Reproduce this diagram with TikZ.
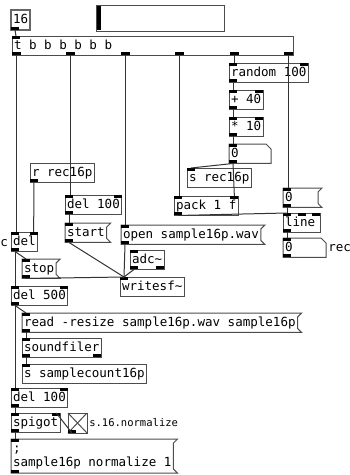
\documentclass[tikz,border=0pt]{standalone}
\usepackage{fontspec}
\setmonofont{DejaVu Sans Mono}
\usetikzlibrary{calc}
\newcommand{\pdfont}{\fontsize{9.4pt}{11pt}\ttfamily}
\newcommand{\pdsmall}{\fontsize{7.9pt}{9pt}\ttfamily}
% flag outline of a message box, notch of a number box
\newcommand{\flag}[1]{\draw[box] (#1.north west) -- ($(#1.north east)+(4,0)$) -- ($(#1.north east)+(0,4)$) -- ($(#1.south east)+(0,-4)$) -- ($(#1.south east)+(4,0)$) -- (#1.south west) -- cycle;}
\newcommand{\notch}[1]{\draw[box] (#1.north west) -- ($(#1.north east)+(-5,0)$) -- ($(#1.north east)+(0,5)$) -- (#1.south east) -- (#1.south west) -- cycle;}
% inlets and outlets
\newcommand{\inL}[1]{\fill (#1.north west) rectangle ++(8,3);}
\newcommand{\inR}[1]{\fill (#1.north east) rectangle ++(-8,3);}
\newcommand{\outL}[1]{\fill (#1.south west) rectangle ++(8,-3);}
\newcommand{\outR}[1]{\fill (#1.south east) rectangle ++(-8,-3);}
\newcommand{\wire}[2]{\draw[wire] ($(#1.south west)+(4,0)$) -- ($(#2.north west)+(4,0)$);}
\newcommand{\wireR}[2]{\draw[wire] ($(#1.south west)+(4,0)$) -- ($(#2.north east)+(-4,0)$);}

\begin{document}
\begin{tikzpicture}[x=0.75pt, y=-0.75pt]
\tikzset{box/.style = {draw=black!70, line width=0.75pt}}
\tikzset{obj/.style = {box, rectangle, anchor=north west, outer sep=0pt, inner xsep=1.5pt, inner ysep=0pt,
  minimum height=14.6pt, text height=7.3pt, text depth=2pt, font=\pdfont}}
\tikzset{msg/.style = {obj, draw=none}, atom/.style = {obj, draw=none}}
\tikzset{wide/.style = {text width=#1, align=left}}
\tikzset{wire/.style = {draw=black!80, line width=0.75pt}}
\useasboundingbox (0,0) rectangle (350,475);

% top row
\node[obj, line width=1.4pt, draw=black!60, minimum height=15pt] (num16) at (11,10) {16};
\draw[box] (96,5) rectangle (224,31);
\fill (97,6) rectangle (101,30);
\node[obj] (trig) at (12,36) {\makebox[207.75pt][l]{t b b b b b b}};
\foreach \k in {0,...,5} {
  \fill ($(trig.south west)+(\k*54.4,0)$) rectangle ++(9,-3);
  \coordinate (t\k) at ($(trig.south west)+(\k*54.4+4.5,0)$);
}

% random delay time
\node[obj] (random) at (229,63) {random 100};
\node[obj] (plus) at (229,90) {+ 40};
\node[obj] (times) at (229,117) {* 10};
\node[atom, wide=28.5pt] (num0) at (229,144) {0};
\node[obj] (srec) at (187,168) {s rec16p};
\node[obj] (pack) at (174,196) {pack 1 f};
\node[msg, wide=23.25pt] (msg0) at (283,188) {0};
\node[obj, wide=24.75pt] (ramp) at (283,213) {line};
\node[atom, wide=29.25pt] (numrec) at (283,238) {0};
\node[anchor=west, font=\pdfont, inner sep=0pt] (reclbl) at (328,248) {rec};

% recording
\node[obj] (rrec) at (30,163) {r rec16p};
\node[obj] (delstart) at (65,195) {del 100};
\node[msg] (startmsg) at (65,223) {start};
\node[msg] (openmsg) at (121,225) {open sample16p.wav};
\node[obj] (del) at (11,232) {del};
\node[anchor=west, font=\pdfont, inner sep=0pt] (clbl) at (0,243) {c};
\node[obj] (adc) at (130,250) {adc\textasciitilde};
\node[msg] (stopmsg) at (22,259) {stop};
\node[obj] (writesf) at (120,277) {writesf\textasciitilde};

% reading back
\node[obj] (del500) at (11,286) {del 500};
\node[msg] (readmsg) at (22,313) {read -resize sample16p.wav sample16p};
\node[obj] (sfiler) at (22,338) {soundfiler};
\node[obj] (ssc) at (22,364) {s samplecount16p};
\node[obj] (delnorm) at (11,388) {del 100};
\node[obj] (spigot) at (11,413) {spigot};
\node[box, anchor=north west, outer sep=0pt, minimum width=14.25pt, minimum height=15pt] (toggle) at (68,413) {};
\draw[box] (toggle.north west) -- (toggle.south east) (toggle.north east) -- (toggle.south west);
\node[anchor=west, font=\pdsmall, inner sep=0pt] (normlbl) at (89,423) {s.16.normalize};
\node[msg, align=left, minimum height=25.5pt, text height=18.3pt] (normmsg) at (11,439) {;\\sample16p normalize 1};

\foreach \m in {msg0,startmsg,openmsg,stopmsg,readmsg,normmsg} {\flag{\m}}
\foreach \m in {num0,numrec} {\notch{\m}}

% inlets, outlets
\foreach \m in {trig,random,plus,times,num0,srec,pack,msg0,ramp,numrec,delstart,startmsg,openmsg,
  del,adc,stopmsg,writesf,del500,readmsg,sfiler,ssc,delnorm,spigot,normmsg} {\inL{\m}}
\foreach \m in {random,plus,times,pack,ramp,delstart,del,del500,delnorm,spigot} {\inR{\m}}
\foreach \m in {num16,random,plus,times,num0,rrec,pack,msg0,ramp,numrec,delstart,startmsg,openmsg,
  del,adc,stopmsg,del500,readmsg,sfiler,delnorm,spigot,toggle,normmsg} {\outL{\m}}
\foreach \m in {adc,sfiler} {\outR{\m}}
\fill ($(ramp.north west)!0.5!(ramp.north east)+(-4,0)$) rectangle ++(8,3);

% connections
\wire{num16}{trig}
\draw[wire] (t0) -- (t0 |- del.north);
\draw[wire] (t1) -- (t1 |- delstart.north);
\draw[wire] (t2) -- (t2 |- openmsg.north);
\draw[wire] (t3) -- (t3 |- pack.north);
\draw[wire] (t4) -- (t4 |- random.north);
\draw[wire] (t5) -- (t5 |- msg0.north);
\wire{random}{plus}
\wire{plus}{times}
\wire{times}{num0}
\wire{num0}{srec}
\wireR{num0}{pack}
\wire{pack}{ramp}
\wire{msg0}{ramp}
\wire{ramp}{numrec}
\wireR{rrec}{del}
\wire{del}{stopmsg}
\wire{del}{del500}
\wire{delstart}{startmsg}
\wire{startmsg}{writesf}
\wire{openmsg}{writesf}
\wire{adc}{writesf}
\wire{stopmsg}{writesf}
\wire{del500}{readmsg}
\wire{del500}{delnorm}
\wire{readmsg}{sfiler}
\wire{sfiler}{ssc}
\wire{delnorm}{spigot}
\wireR{toggle}{spigot}
\wire{spigot}{normmsg}
\end{tikzpicture}
\end{document}
